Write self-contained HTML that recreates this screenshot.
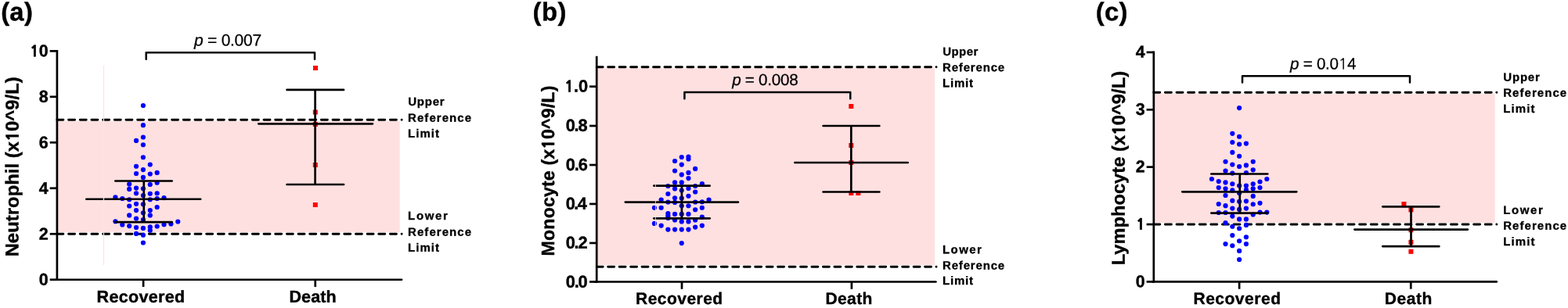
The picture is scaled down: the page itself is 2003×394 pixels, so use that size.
<!DOCTYPE html>
<html lang="en">
<head>
<meta charset="utf-8">
<title>Figure</title>
<style>
html,body{margin:0;padding:0;background:#fff;}
body{width:2003px;height:394px;overflow:hidden;}
svg{display:block;}
svg text{font-family:"Liberation Sans",sans-serif;fill:#000;}
</style>
</head>
<body>
<svg width="2003" height="394" viewBox="0 0 2003 394">
<rect x="0" y="0" width="2003" height="394" fill="#fff"/>
<g>
<rect x="72.9" y="154.6" width="437.79999999999995" height="142.70000000000002" fill="#ffe0e0"/>
<line x1="72.9" y1="153.2" x2="513.15" y2="153.2" stroke="#000" stroke-width="2.9" stroke-dasharray="8 6.673" stroke-linecap="round"/>
<line x1="72.9" y1="299.3" x2="513.15" y2="299.3" stroke="#000" stroke-width="2.9" stroke-dasharray="8 6.673" stroke-linecap="round"/>
<g fill="#0000ff"><circle cx="182.90" cy="135.00" r="3.1"/><circle cx="182.90" cy="160.20" r="3.1"/><circle cx="182.90" cy="175.50" r="3.1"/><circle cx="174.03" cy="179.90" r="3.1"/><circle cx="182.90" cy="185.25" r="3.1"/><circle cx="182.90" cy="201.25" r="3.1"/><circle cx="191.77" cy="210.50" r="3.1"/><circle cx="174.03" cy="212.75" r="3.1"/><circle cx="182.90" cy="217.10" r="3.1"/><circle cx="174.03" cy="222.00" r="3.1"/><circle cx="191.77" cy="222.50" r="3.1"/><circle cx="200.64" cy="220.90" r="3.1"/><circle cx="182.90" cy="226.90" r="3.1"/><circle cx="165.16" cy="235.60" r="3.1"/><circle cx="191.77" cy="236.00" r="3.1"/><circle cx="200.64" cy="233.75" r="3.1"/><circle cx="165.16" cy="241.90" r="3.1"/><circle cx="174.03" cy="240.60" r="3.1"/><circle cx="182.90" cy="241.25" r="3.1"/><circle cx="174.03" cy="247.25" r="3.1"/><circle cx="191.77" cy="247.75" r="3.1"/><circle cx="200.64" cy="247.25" r="3.1"/><circle cx="182.90" cy="250.00" r="3.1"/><circle cx="147.42" cy="252.25" r="3.1"/><circle cx="156.29" cy="254.00" r="3.1"/><circle cx="165.16" cy="255.25" r="3.1"/><circle cx="191.77" cy="255.25" r="3.1"/><circle cx="200.64" cy="254.00" r="3.1"/><circle cx="209.51" cy="253.10" r="3.1"/><circle cx="174.03" cy="260.80" r="3.1"/><circle cx="182.90" cy="261.25" r="3.1"/><circle cx="165.16" cy="263.50" r="3.1"/><circle cx="200.64" cy="265.00" r="3.1"/><circle cx="174.03" cy="269.10" r="3.1"/><circle cx="191.77" cy="269.10" r="3.1"/><circle cx="182.90" cy="272.25" r="3.1"/><circle cx="165.16" cy="275.40" r="3.1"/><circle cx="191.77" cy="275.40" r="3.1"/><circle cx="174.03" cy="279.50" r="3.1"/><circle cx="182.90" cy="281.00" r="3.1"/><circle cx="147.42" cy="283.25" r="3.1"/><circle cx="227.25" cy="283.50" r="3.1"/><circle cx="156.29" cy="287.50" r="3.1"/><circle cx="165.16" cy="289.10" r="3.1"/><circle cx="174.03" cy="291.00" r="3.1"/><circle cx="182.90" cy="291.90" r="3.1"/><circle cx="191.77" cy="290.40" r="3.1"/><circle cx="200.64" cy="289.50" r="3.1"/><circle cx="209.51" cy="287.25" r="3.1"/><circle cx="218.38" cy="286.40" r="3.1"/><circle cx="191.77" cy="294.75" r="3.1"/><circle cx="174.03" cy="298.90" r="3.1"/><circle cx="182.90" cy="300.75" r="3.1"/><circle cx="182.90" cy="310.50" r="3.1"/></g>
<g fill="#ff0000"><rect x="400.00" y="84.00" width="6" height="6"/><rect x="399.80" y="140.50" width="6" height="6"/><rect x="399.80" y="156.00" width="6" height="6"/><rect x="399.80" y="208.00" width="6" height="6"/><rect x="399.80" y="259.00" width="6" height="6"/></g>
<line x1="183.75" y1="231.5" x2="183.75" y2="284.1" stroke="#000" stroke-width="2.7"/>
<line x1="147.35" y1="231.5" x2="219.65" y2="231.5" stroke="#000" stroke-width="2.7" stroke-linecap="round"/>
<line x1="147.35" y1="284.1" x2="219.65" y2="284.1" stroke="#000" stroke-width="2.7" stroke-linecap="round"/>
<line x1="110.35" y1="254.75" x2="256.15" y2="254.75" stroke="#000" stroke-width="2.7" stroke-linecap="round"/>
<line x1="402.6" y1="114.9" x2="402.6" y2="236" stroke="#000" stroke-width="2.7"/>
<line x1="366.55" y1="114.9" x2="439.04999999999995" y2="114.9" stroke="#000" stroke-width="2.7" stroke-linecap="round"/>
<line x1="366.55" y1="236" x2="439.04999999999995" y2="236" stroke="#000" stroke-width="2.7" stroke-linecap="round"/>
<line x1="330.35" y1="158.3" x2="475.84999999999997" y2="158.3" stroke="#000" stroke-width="2.7" stroke-linecap="round"/>
<rect x="131.9" y="84" width="1.2" height="255" fill="#ffe3e3"/>
<line x1="72.9" y1="63.949999999999996" x2="72.9" y2="359.1" stroke="#000" stroke-width="2.7"/>
<line x1="71.55000000000001" y1="357.75" x2="513.05" y2="357.75" stroke="#000" stroke-width="2.7" stroke-linecap="round"/>
<line x1="63.7" y1="357.75" x2="72.9" y2="357.75" stroke="#000" stroke-width="2.7"/>
<line x1="63.7" y1="299.26" x2="72.9" y2="299.26" stroke="#000" stroke-width="2.7"/>
<line x1="63.7" y1="240.77" x2="72.9" y2="240.77" stroke="#000" stroke-width="2.7"/>
<line x1="63.7" y1="182.28" x2="72.9" y2="182.28" stroke="#000" stroke-width="2.7"/>
<line x1="63.7" y1="123.79" x2="72.9" y2="123.79" stroke="#000" stroke-width="2.7"/>
<line x1="63.7" y1="65.3" x2="72.9" y2="65.3" stroke="#000" stroke-width="2.7"/>
<line x1="183.1" y1="357.75" x2="183.1" y2="367.05" stroke="#000" stroke-width="2.7"/>
<line x1="402.75" y1="357.75" x2="402.75" y2="367.05" stroke="#000" stroke-width="2.7"/>
<polyline points="186.7,75.8 186.7,67.2 402,67.2 402,75.8" fill="none" stroke="#000" stroke-width="2.5" stroke-linejoin="round" stroke-linecap="round"/>
<text transform="translate(1.17 26.30) matrix(1.0 0.0005 0 1 0 0)" font-size="32.8" font-weight="bold" stroke="#000" stroke-width="0.4" stroke-linejoin="round" textLength="40.65" lengthAdjust="spacing">(a)</text>
<text transform="translate(123.55 386.80) matrix(1.0 0.0005 0 1 0 0)" font-size="21.5" font-weight="bold" stroke="#000" stroke-width="0.4" stroke-linejoin="round" textLength="112.52" lengthAdjust="spacing">Recovered</text>
<text transform="translate(369.45 386.80) matrix(1.0 0.0005 0 1 0 0)" font-size="21.5" font-weight="bold" stroke="#000" stroke-width="0.4" stroke-linejoin="round" textLength="60.31" lengthAdjust="spacing">Death</text>
<text transform="translate(248.11 58.50) matrix(1.0 0.0005 0 1 0 0)" font-size="21.0" font-weight="normal" stroke="#000" stroke-width="0.25" stroke-linejoin="round" textLength="85.99" lengthAdjust="spacing"><tspan font-style="italic">p</tspan> = 0.007</text>
<text transform="translate(521.24 135.10) matrix(1.0 0.0005 0 1 0 0)" font-size="15.0" font-weight="bold" stroke="#000" stroke-width="0.3" stroke-linejoin="round" textLength="46.44" lengthAdjust="spacing">Upper</text>
<text transform="translate(521.09 155.80) matrix(1.0 0.0005 0 1 0 0)" font-size="15.0" font-weight="bold" stroke="#000" stroke-width="0.3" stroke-linejoin="round" textLength="80.97" lengthAdjust="spacing">Reference</text>
<text transform="translate(521.09 175.75) matrix(1.0 0.0005 0 1 0 0)" font-size="15.0" font-weight="bold" stroke="#000" stroke-width="0.3" stroke-linejoin="round" textLength="39.96" lengthAdjust="spacing">Limit</text>
<text transform="translate(521.09 281.10) matrix(1.0 0.0005 0 1 0 0)" font-size="15.0" font-weight="bold" stroke="#000" stroke-width="0.3" stroke-linejoin="round" textLength="50.87" lengthAdjust="spacing">Lower</text>
<text transform="translate(521.09 301.80) matrix(1.0 0.0005 0 1 0 0)" font-size="15.0" font-weight="bold" stroke="#000" stroke-width="0.3" stroke-linejoin="round" textLength="80.97" lengthAdjust="spacing">Reference</text>
<text transform="translate(521.09 321.75) matrix(1.0 0.0005 0 1 0 0)" font-size="15.0" font-weight="bold" stroke="#000" stroke-width="0.3" stroke-linejoin="round" textLength="39.96" lengthAdjust="spacing">Limit</text>
<text transform="translate(23.60 328.35) rotate(-89.97)" font-size="23.8" font-weight="bold" stroke="#000" stroke-width="0.4" stroke-linejoin="round" textLength="230.13" lengthAdjust="spacing">Neutrophil (x<tspan font-family="NanumGothic,'Liberation Sans',sans-serif" font-weight="800" font-size="21.18">1</tspan>0^9/L)</text>
<text transform="translate(61.80 364.80) matrix(1.0 0.0005 0 1 0 0)" font-size="21.5" font-weight="bold" stroke="#000" stroke-width="0.4" stroke-linejoin="round" text-anchor="end">0</text>
<text transform="translate(61.80 306.60) matrix(1.0 0.0005 0 1 0 0)" font-size="21.5" font-weight="bold" stroke="#000" stroke-width="0.4" stroke-linejoin="round" text-anchor="end">2</text>
<text transform="translate(61.80 248.00) matrix(1.0 0.0005 0 1 0 0)" font-size="21.5" font-weight="bold" stroke="#000" stroke-width="0.4" stroke-linejoin="round" text-anchor="end">4</text>
<text transform="translate(61.80 189.40) matrix(1.0 0.0005 0 1 0 0)" font-size="21.5" font-weight="bold" stroke="#000" stroke-width="0.4" stroke-linejoin="round" text-anchor="end">6</text>
<text transform="translate(61.80 130.80) matrix(1.0 0.0005 0 1 0 0)" font-size="21.5" font-weight="bold" stroke="#000" stroke-width="0.4" stroke-linejoin="round" text-anchor="end">8</text>
<text transform="translate(61.80 72.20) matrix(1.0 0.0005 0 1 0 0)" font-size="21.5" font-weight="bold" stroke="#000" stroke-width="0.4" stroke-linejoin="round" text-anchor="end"><tspan font-family="NanumGothic,'Liberation Sans',sans-serif" font-weight="800" font-size="19.14">1</tspan>0</text>
</g>
<g>
<rect x="762.2" y="87.10000000000001" width="432.0" height="252.20000000000002" fill="#ffe0e0"/>
<line x1="762.2" y1="85.7" x2="1196.05" y2="85.7" stroke="#000" stroke-width="2.9" stroke-dasharray="8 6.460" stroke-linecap="round"/>
<line x1="762.2" y1="341.3" x2="1196.05" y2="341.3" stroke="#000" stroke-width="2.9" stroke-dasharray="8 6.460" stroke-linecap="round"/>
<g fill="#0000ff"><circle cx="870.75" cy="201.00" r="3.1"/><circle cx="879.45" cy="200.50" r="3.1"/><circle cx="879.45" cy="203.50" r="3.1"/><circle cx="862.05" cy="206.00" r="3.1"/><circle cx="870.75" cy="210.60" r="3.1"/><circle cx="888.15" cy="215.90" r="3.1"/><circle cx="862.05" cy="218.50" r="3.1"/><circle cx="879.45" cy="220.90" r="3.1"/><circle cx="870.75" cy="223.40" r="3.1"/><circle cx="879.45" cy="228.10" r="3.1"/><circle cx="862.05" cy="233.40" r="3.1"/><circle cx="870.75" cy="233.40" r="3.1"/><circle cx="896.85" cy="235.20" r="3.1"/><circle cx="853.35" cy="238.00" r="3.1"/><circle cx="888.15" cy="238.00" r="3.1"/><circle cx="862.05" cy="241.40" r="3.1"/><circle cx="879.45" cy="241.00" r="3.1"/><circle cx="870.75" cy="243.50" r="3.1"/><circle cx="888.15" cy="245.50" r="3.1"/><circle cx="853.35" cy="248.00" r="3.1"/><circle cx="879.45" cy="250.75" r="3.1"/><circle cx="862.05" cy="253.25" r="3.1"/><circle cx="870.75" cy="253.50" r="3.1"/><circle cx="844.65" cy="255.50" r="3.1"/><circle cx="905.55" cy="255.50" r="3.1"/><circle cx="853.35" cy="258.50" r="3.1"/><circle cx="862.05" cy="258.90" r="3.1"/><circle cx="888.15" cy="258.50" r="3.1"/><circle cx="896.85" cy="258.25" r="3.1"/><circle cx="870.75" cy="263.25" r="3.1"/><circle cx="879.45" cy="263.25" r="3.1"/><circle cx="835.95" cy="265.75" r="3.1"/><circle cx="844.65" cy="265.75" r="3.1"/><circle cx="896.85" cy="265.75" r="3.1"/><circle cx="888.15" cy="268.25" r="3.1"/><circle cx="853.35" cy="273.00" r="3.1"/><circle cx="862.05" cy="273.90" r="3.1"/><circle cx="870.75" cy="273.90" r="3.1"/><circle cx="879.45" cy="273.90" r="3.1"/><circle cx="853.35" cy="276.20" r="3.1"/><circle cx="896.85" cy="277.70" r="3.1"/><circle cx="853.35" cy="279.00" r="3.1"/><circle cx="862.05" cy="281.50" r="3.1"/><circle cx="870.75" cy="283.40" r="3.1"/><circle cx="879.45" cy="283.40" r="3.1"/><circle cx="888.15" cy="281.50" r="3.1"/><circle cx="835.95" cy="285.90" r="3.1"/><circle cx="844.65" cy="288.60" r="3.1"/><circle cx="896.85" cy="288.60" r="3.1"/><circle cx="888.15" cy="290.60" r="3.1"/><circle cx="853.35" cy="293.60" r="3.1"/><circle cx="862.05" cy="293.60" r="3.1"/><circle cx="870.75" cy="293.60" r="3.1"/><circle cx="879.45" cy="293.60" r="3.1"/><circle cx="870.75" cy="311.10" r="3.1"/></g>
<g fill="#ff0000"><rect x="1084.30" y="133.00" width="6" height="6"/><rect x="1084.30" y="183.00" width="6" height="6"/><rect x="1084.30" y="205.00" width="6" height="6"/><rect x="1084.30" y="244.00" width="6" height="6"/><rect x="1093.30" y="244.00" width="6" height="6"/></g>
<line x1="870.9" y1="237.6" x2="870.9" y2="279.3" stroke="#000" stroke-width="2.7"/>
<line x1="835.35" y1="237.6" x2="906.65" y2="237.6" stroke="#000" stroke-width="2.7" stroke-linecap="round"/>
<line x1="835.35" y1="279.3" x2="906.65" y2="279.3" stroke="#000" stroke-width="2.7" stroke-linecap="round"/>
<line x1="798.85" y1="258.6" x2="942.9499999999999" y2="258.6" stroke="#000" stroke-width="2.7" stroke-linecap="round"/>
<line x1="1087.3" y1="161" x2="1087.3" y2="245.5" stroke="#000" stroke-width="2.7"/>
<line x1="1051.55" y1="161" x2="1123.3500000000001" y2="161" stroke="#000" stroke-width="2.7" stroke-linecap="round"/>
<line x1="1051.55" y1="245.5" x2="1123.3500000000001" y2="245.5" stroke="#000" stroke-width="2.7" stroke-linecap="round"/>
<line x1="1015.35" y1="208" x2="1159.65" y2="208" stroke="#000" stroke-width="2.7" stroke-linecap="round"/>
<rect x="837.1" y="200" width="0.8" height="100" fill="#ffe0e0"/>
<line x1="762.2" y1="71.75" x2="762.2" y2="361.85" stroke="#000" stroke-width="2.7"/>
<line x1="760.85" y1="360.5" x2="1195.45" y2="360.5" stroke="#000" stroke-width="2.7" stroke-linecap="round"/>
<line x1="753.0" y1="360.5" x2="762.2" y2="360.5" stroke="#000" stroke-width="2.7"/>
<line x1="753.0" y1="310.9" x2="762.2" y2="310.9" stroke="#000" stroke-width="2.7"/>
<line x1="753.0" y1="260.9" x2="762.2" y2="260.9" stroke="#000" stroke-width="2.7"/>
<line x1="753.0" y1="211.0" x2="762.2" y2="211.0" stroke="#000" stroke-width="2.7"/>
<line x1="753.0" y1="161.0" x2="762.2" y2="161.0" stroke="#000" stroke-width="2.7"/>
<line x1="753.0" y1="110.7" x2="762.2" y2="110.7" stroke="#000" stroke-width="2.7"/>
<line x1="871" y1="360.5" x2="871" y2="369.8" stroke="#000" stroke-width="2.7"/>
<line x1="1087.9" y1="360.5" x2="1087.9" y2="369.8" stroke="#000" stroke-width="2.7"/>
<polyline points="874.4,126.2 874.4,117.9 1086.25,117.9 1086.25,126.2" fill="none" stroke="#000" stroke-width="2.5" stroke-linejoin="round" stroke-linecap="round"/>
<text transform="translate(680.57 26.30) matrix(1.0 0.0005 0 1 0 0)" font-size="32.8" font-weight="bold" stroke="#000" stroke-width="0.4" stroke-linejoin="round" textLength="42.81" lengthAdjust="spacing">(b)</text>
<text transform="translate(812.06 388.90) matrix(1.0 0.0005 0 1 0 0)" font-size="21.0" font-weight="bold" stroke="#000" stroke-width="0.4" stroke-linejoin="round" textLength="111.08" lengthAdjust="spacing">Recovered</text>
<text transform="translate(1054.46 388.90) matrix(1.0 0.0005 0 1 0 0)" font-size="21.0" font-weight="bold" stroke="#000" stroke-width="0.4" stroke-linejoin="round" textLength="59.95" lengthAdjust="spacing">Death</text>
<text transform="translate(935.17 109.00) matrix(1.0 0.0005 0 1 0 0)" font-size="20.6" font-weight="normal" stroke="#000" stroke-width="0.25" stroke-linejoin="round" textLength="84.48" lengthAdjust="spacing"><tspan font-style="italic">p</tspan> = 0.008</text>
<text transform="translate(1204.14 71.10) matrix(1.0 0.0005 0 1 0 0)" font-size="15.0" font-weight="bold" stroke="#000" stroke-width="0.3" stroke-linejoin="round" textLength="45.30" lengthAdjust="spacing">Upper</text>
<text transform="translate(1203.99 91.30) matrix(1.0 0.0005 0 1 0 0)" font-size="15.0" font-weight="bold" stroke="#000" stroke-width="0.3" stroke-linejoin="round" textLength="79.16" lengthAdjust="spacing">Reference</text>
<text transform="translate(1203.99 111.30) matrix(1.0 0.0005 0 1 0 0)" font-size="15.0" font-weight="bold" stroke="#000" stroke-width="0.3" stroke-linejoin="round" textLength="38.99" lengthAdjust="spacing">Limit</text>
<text transform="translate(1203.99 324.30) matrix(1.0 0.0005 0 1 0 0)" font-size="15.0" font-weight="bold" stroke="#000" stroke-width="0.3" stroke-linejoin="round" textLength="49.82" lengthAdjust="spacing">Lower</text>
<text transform="translate(1203.99 344.60) matrix(1.0 0.0005 0 1 0 0)" font-size="15.0" font-weight="bold" stroke="#000" stroke-width="0.3" stroke-linejoin="round" textLength="79.16" lengthAdjust="spacing">Reference</text>
<text transform="translate(1203.99 364.10) matrix(1.0 0.0005 0 1 0 0)" font-size="15.0" font-weight="bold" stroke="#000" stroke-width="0.3" stroke-linejoin="round" textLength="38.99" lengthAdjust="spacing">Limit</text>
<text transform="translate(708.00 327.47) rotate(-89.97)" font-size="23.3" font-weight="bold" stroke="#000" stroke-width="0.4" stroke-linejoin="round" textLength="217.89" lengthAdjust="spacing">Monocyte (x<tspan font-family="NanumGothic,'Liberation Sans',sans-serif" font-weight="800" font-size="20.74">1</tspan>0^9/L)</text>
<text transform="translate(722.64 367.70) matrix(1.0 0.0005 0 1 0 0)" font-size="21.8" font-weight="bold" stroke="#000" stroke-width="0.4" stroke-linejoin="round" textLength="28.10" lengthAdjust="spacing">0.0</text>
<text transform="translate(722.64 317.70) matrix(1.0 0.0005 0 1 0 0)" font-size="21.8" font-weight="bold" stroke="#000" stroke-width="0.4" stroke-linejoin="round" textLength="28.04" lengthAdjust="spacing">0.2</text>
<text transform="translate(722.64 267.70) matrix(1.0 0.0005 0 1 0 0)" font-size="21.8" font-weight="bold" stroke="#000" stroke-width="0.4" stroke-linejoin="round" textLength="27.27" lengthAdjust="spacing">0.4</text>
<text transform="translate(722.64 217.90) matrix(1.0 0.0005 0 1 0 0)" font-size="21.8" font-weight="bold" stroke="#000" stroke-width="0.4" stroke-linejoin="round" textLength="28.17" lengthAdjust="spacing">0.6</text>
<text transform="translate(722.64 167.70) matrix(1.0 0.0005 0 1 0 0)" font-size="21.8" font-weight="bold" stroke="#000" stroke-width="0.4" stroke-linejoin="round" textLength="27.92" lengthAdjust="spacing">0.8</text>
<text transform="translate(721.24 117.40) matrix(1.0 0.0005 0 1 0 0)" font-size="21.8" font-weight="bold" stroke="#000" stroke-width="0.4" stroke-linejoin="round" textLength="29.78" lengthAdjust="spacing"><tspan font-family="NanumGothic,'Liberation Sans',sans-serif" font-weight="800" font-size="19.40">1</tspan>.0</text>
</g>
<g>
<rect x="1473.8" y="119.60000000000001" width="436.0" height="165.4" fill="#ffe0e0"/>
<line x1="1473.8" y1="118.2" x2="1911.85" y2="118.2" stroke="#000" stroke-width="2.9" stroke-dasharray="8 6.600" stroke-linecap="round"/>
<line x1="1473.8" y1="287.0" x2="1911.85" y2="287.0" stroke="#000" stroke-width="2.9" stroke-dasharray="8 6.600" stroke-linecap="round"/>
<g fill="#0000ff"><circle cx="1583.10" cy="138.10" r="3.1"/><circle cx="1574.30" cy="170.80" r="3.1"/><circle cx="1583.10" cy="174.75" r="3.1"/><circle cx="1574.30" cy="182.00" r="3.1"/><circle cx="1583.10" cy="184.50" r="3.1"/><circle cx="1591.90" cy="183.60" r="3.1"/><circle cx="1574.30" cy="194.90" r="3.1"/><circle cx="1583.10" cy="199.75" r="3.1"/><circle cx="1565.50" cy="206.75" r="3.1"/><circle cx="1600.70" cy="206.75" r="3.1"/><circle cx="1574.30" cy="210.50" r="3.1"/><circle cx="1583.10" cy="213.00" r="3.1"/><circle cx="1591.90" cy="211.40" r="3.1"/><circle cx="1565.50" cy="218.70" r="3.1"/><circle cx="1600.70" cy="217.30" r="3.1"/><circle cx="1574.30" cy="221.60" r="3.1"/><circle cx="1591.90" cy="221.00" r="3.1"/><circle cx="1547.90" cy="229.00" r="3.1"/><circle cx="1618.30" cy="229.00" r="3.1"/><circle cx="1556.70" cy="232.10" r="3.1"/><circle cx="1609.50" cy="232.50" r="3.1"/><circle cx="1565.50" cy="233.40" r="3.1"/><circle cx="1574.30" cy="235.25" r="3.1"/><circle cx="1600.70" cy="235.25" r="3.1"/><circle cx="1583.10" cy="237.50" r="3.1"/><circle cx="1591.90" cy="237.50" r="3.1"/><circle cx="1556.70" cy="240.00" r="3.1"/><circle cx="1609.50" cy="240.00" r="3.1"/><circle cx="1565.50" cy="241.25" r="3.1"/><circle cx="1600.70" cy="241.25" r="3.1"/><circle cx="1574.30" cy="243.40" r="3.1"/><circle cx="1591.90" cy="242.75" r="3.1"/><circle cx="1583.10" cy="247.00" r="3.1"/><circle cx="1565.50" cy="250.00" r="3.1"/><circle cx="1600.70" cy="250.90" r="3.1"/><circle cx="1574.30" cy="256.70" r="3.1"/><circle cx="1591.90" cy="257.30" r="3.1"/><circle cx="1583.10" cy="257.80" r="3.1"/><circle cx="1556.70" cy="261.00" r="3.1"/><circle cx="1609.50" cy="259.80" r="3.1"/><circle cx="1565.50" cy="263.20" r="3.1"/><circle cx="1600.70" cy="261.25" r="3.1"/><circle cx="1574.30" cy="266.60" r="3.1"/><circle cx="1591.90" cy="266.60" r="3.1"/><circle cx="1583.10" cy="267.90" r="3.1"/><circle cx="1556.70" cy="272.00" r="3.1"/><circle cx="1565.50" cy="272.00" r="3.1"/><circle cx="1609.50" cy="271.60" r="3.1"/><circle cx="1618.30" cy="271.60" r="3.1"/><circle cx="1600.70" cy="274.50" r="3.1"/><circle cx="1574.30" cy="276.60" r="3.1"/><circle cx="1583.10" cy="280.40" r="3.1"/><circle cx="1591.90" cy="280.40" r="3.1"/><circle cx="1565.50" cy="285.00" r="3.1"/><circle cx="1591.90" cy="287.90" r="3.1"/><circle cx="1574.30" cy="289.75" r="3.1"/><circle cx="1583.10" cy="292.25" r="3.1"/><circle cx="1574.30" cy="301.10" r="3.1"/><circle cx="1591.90" cy="303.25" r="3.1"/><circle cx="1583.10" cy="308.25" r="3.1"/><circle cx="1565.50" cy="312.10" r="3.1"/><circle cx="1591.90" cy="312.10" r="3.1"/><circle cx="1574.30" cy="314.25" r="3.1"/><circle cx="1583.10" cy="320.90" r="3.1"/><circle cx="1583.10" cy="332.00" r="3.1"/></g>
<g fill="#ff0000"><rect x="1790.40" y="258.00" width="6" height="6"/><rect x="1799.40" y="265.40" width="6" height="6"/><rect x="1799.40" y="291.20" width="6" height="6"/><rect x="1799.40" y="306.80" width="6" height="6"/><rect x="1799.40" y="318.80" width="6" height="6"/></g>
<line x1="1583.75" y1="222.5" x2="1583.75" y2="272.6" stroke="#000" stroke-width="2.7"/>
<line x1="1547.35" y1="222.5" x2="1619.25" y2="222.5" stroke="#000" stroke-width="2.7" stroke-linecap="round"/>
<line x1="1547.35" y1="272.6" x2="1619.25" y2="272.6" stroke="#000" stroke-width="2.7" stroke-linecap="round"/>
<line x1="1510.35" y1="245.3" x2="1656.15" y2="245.3" stroke="#000" stroke-width="2.7" stroke-linecap="round"/>
<line x1="1802.5" y1="264.3" x2="1802.5" y2="315.2" stroke="#000" stroke-width="2.7"/>
<line x1="1766.35" y1="264.3" x2="1838.25" y2="264.3" stroke="#000" stroke-width="2.7" stroke-linecap="round"/>
<line x1="1766.35" y1="315.2" x2="1838.25" y2="315.2" stroke="#000" stroke-width="2.7" stroke-linecap="round"/>
<line x1="1730.35" y1="293.6" x2="1874.8500000000001" y2="293.6" stroke="#000" stroke-width="2.7" stroke-linecap="round"/>
<line x1="1473.8" y1="65.55000000000001" x2="1473.8" y2="361.75" stroke="#000" stroke-width="2.7"/>
<line x1="1472.45" y1="360.4" x2="1911.75" y2="360.4" stroke="#000" stroke-width="2.7" stroke-linecap="round"/>
<line x1="1464.6" y1="360.4" x2="1473.8" y2="360.4" stroke="#000" stroke-width="2.7"/>
<line x1="1464.6" y1="287" x2="1473.8" y2="287" stroke="#000" stroke-width="2.7"/>
<line x1="1464.6" y1="213.65" x2="1473.8" y2="213.65" stroke="#000" stroke-width="2.7"/>
<line x1="1464.6" y1="140.3" x2="1473.8" y2="140.3" stroke="#000" stroke-width="2.7"/>
<line x1="1464.6" y1="66.9" x2="1473.8" y2="66.9" stroke="#000" stroke-width="2.7"/>
<line x1="1583.1" y1="360.4" x2="1583.1" y2="369.7" stroke="#000" stroke-width="2.7"/>
<line x1="1802.25" y1="360.4" x2="1802.25" y2="369.7" stroke="#000" stroke-width="2.7"/>
<polyline points="1587,105.5 1587,97.2 1801,97.2 1801,105.5" fill="none" stroke="#000" stroke-width="2.5" stroke-linejoin="round" stroke-linecap="round"/>
<text transform="translate(1399.67 26.30) matrix(1.0 0.0005 0 1 0 0)" font-size="32.8" font-weight="bold" stroke="#000" stroke-width="0.4" stroke-linejoin="round" textLength="40.75" lengthAdjust="spacing">(c)</text>
<text transform="translate(1524.46 389.00) matrix(1.0 0.0005 0 1 0 0)" font-size="21.0" font-weight="bold" stroke="#000" stroke-width="0.4" stroke-linejoin="round" textLength="111.51" lengthAdjust="spacing">Recovered</text>
<text transform="translate(1768.86 389.00) matrix(1.0 0.0005 0 1 0 0)" font-size="21.0" font-weight="bold" stroke="#000" stroke-width="0.4" stroke-linejoin="round" textLength="60.58" lengthAdjust="spacing">Death</text>
<text transform="translate(1648.07 88.50) matrix(1.0 0.0005 0 1 0 0)" font-size="20.6" font-weight="normal" stroke="#000" stroke-width="0.25" stroke-linejoin="round" textLength="84.43" lengthAdjust="spacing"><tspan font-style="italic">p</tspan> = 0.0<tspan font-family="NanumGothic,'Liberation Sans',sans-serif" font-weight="400" font-size="19.08">1</tspan>4</text>
<text transform="translate(1920.34 103.80) matrix(1.0 0.0005 0 1 0 0)" font-size="15.0" font-weight="bold" stroke="#000" stroke-width="0.3" stroke-linejoin="round" textLength="46.44" lengthAdjust="spacing">Upper</text>
<text transform="translate(1920.19 123.80) matrix(1.0 0.0005 0 1 0 0)" font-size="15.0" font-weight="bold" stroke="#000" stroke-width="0.3" stroke-linejoin="round" textLength="80.97" lengthAdjust="spacing">Reference</text>
<text transform="translate(1920.19 144.10) matrix(1.0 0.0005 0 1 0 0)" font-size="15.0" font-weight="bold" stroke="#000" stroke-width="0.3" stroke-linejoin="round" textLength="40.41" lengthAdjust="spacing">Limit</text>
<text transform="translate(1920.19 273.80) matrix(1.0 0.0005 0 1 0 0)" font-size="15.0" font-weight="bold" stroke="#000" stroke-width="0.3" stroke-linejoin="round" textLength="50.63" lengthAdjust="spacing">Lower</text>
<text transform="translate(1920.19 293.80) matrix(1.0 0.0005 0 1 0 0)" font-size="15.0" font-weight="bold" stroke="#000" stroke-width="0.3" stroke-linejoin="round" textLength="80.97" lengthAdjust="spacing">Reference</text>
<text transform="translate(1920.19 314.10) matrix(1.0 0.0005 0 1 0 0)" font-size="15.0" font-weight="bold" stroke="#000" stroke-width="0.3" stroke-linejoin="round" textLength="40.41" lengthAdjust="spacing">Limit</text>
<text transform="translate(1436.80 339.33) rotate(-89.97)" font-size="23.6" font-weight="bold" stroke="#000" stroke-width="0.4" stroke-linejoin="round" textLength="248.33" lengthAdjust="spacing">Lymphocyte (x<tspan font-family="NanumGothic,'Liberation Sans',sans-serif" font-weight="800" font-size="21.00">1</tspan>0^9/L)</text>
<text transform="translate(1462.70 367.20) matrix(1.0 0.0005 0 1 0 0)" font-size="21.4" font-weight="bold" stroke="#000" stroke-width="0.4" stroke-linejoin="round" text-anchor="end">0</text>
<text transform="translate(1462.70 293.70) matrix(1.0 0.0005 0 1 0 0)" font-size="21.4" font-weight="bold" stroke="#000" stroke-width="0.4" stroke-linejoin="round" text-anchor="end"><tspan font-family="NanumGothic,'Liberation Sans',sans-serif" font-weight="800" font-size="19.05">1</tspan></text>
<text transform="translate(1462.70 220.20) matrix(1.0 0.0005 0 1 0 0)" font-size="21.4" font-weight="bold" stroke="#000" stroke-width="0.4" stroke-linejoin="round" text-anchor="end">2</text>
<text transform="translate(1462.70 146.90) matrix(1.0 0.0005 0 1 0 0)" font-size="21.4" font-weight="bold" stroke="#000" stroke-width="0.4" stroke-linejoin="round" text-anchor="end">3</text>
<text transform="translate(1462.70 73.60) matrix(1.0 0.0005 0 1 0 0)" font-size="21.4" font-weight="bold" stroke="#000" stroke-width="0.4" stroke-linejoin="round" text-anchor="end">4</text>
</g>
</svg>
</body>
</html>
